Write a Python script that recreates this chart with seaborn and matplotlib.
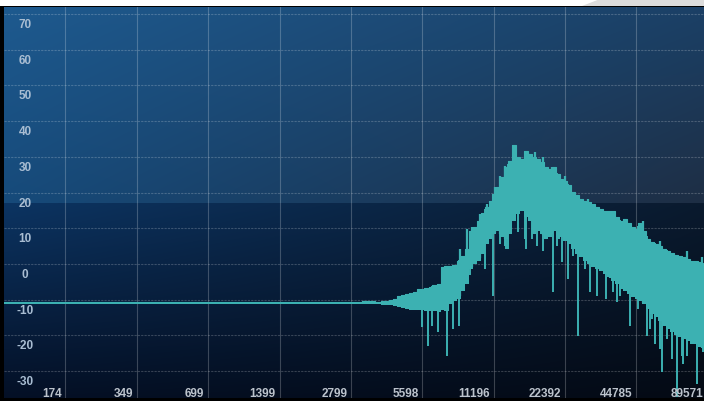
import numpy as np
import matplotlib
matplotlib.use("Agg")
import matplotlib.pyplot as plt
import matplotlib.transforms as mtransforms
from matplotlib.patches import Rectangle, Polygon
import seaborn as sns

# Spectrum (Hz / dB)
band_freq = [96, 2799, 3400, 3675, 3820, 3972, 4130, 4293, 4463, 4640, 4824, 5016, 5214, 5421,
             5598, 5820, 6051, 6290, 6541, 6799, 7069, 7350, 7641, 7944, 8259, 8586, 8927, 9281,
             9649, 10031, 10429, 10842,
             11196, 11640, 12102, 12580, 13082, 13598, 14138, 14700, 15282, 15888, 16518, 17172,
             17854, 18562, 19298, 20062, 20858, 21684,
             22392, 23280, 24204, 25160, 26164, 27196, 28276, 29400, 30564, 31776, 33036, 34344,
             35708, 37124, 38596, 40124, 41716, 43368,
             44785, 46560, 48408, 50320, 52328, 54392, 56552, 58800, 61128, 63552, 66072, 68688,
             71416, 74248, 77192, 80248, 83432, 86736]
band_hi = [-10.6, -10.6, -10.5, -10.6, -10.5, -10.4, -10.1, -9.8, -9.0, -8.7, -8.4, -8.2, -7.9, -7.0,
           -7.0, -6.7, -6.5, -5.9, -5.6, -0.9, -0.6, -0.6, -0.3, 0.8, 2.2, 4.2, 9.2, 10.3,
           12.0, 14.3, 15.9, 17.6,
           19.6, 21.5, 24.3, 27.1, 28.8, 33.3, 29.9, 29.4, 31.6, 30.8, 29.9, 29.4,
           28.5, 27.1, 26.6, 27.1, 25.2, 23.8,
           23.2, 22.1, 20.1, 19.3, 18.2, 17.6, 17.3, 16.8, 15.9, 15.4, 14.8, 14.8,
           14.8, 13.1, 12.0, 12.6, 11.5, 10.3,
           9.8, 11.5, 9.2, 7.0, 6.1, 5.6, 5.0, 4.2, 3.6, 3.1, 2.5, 2.2,
           1.9, 1.4, 0.8, 0.8, 0.5, 0.0]
band_lo = [-11.3, -11.3, -11.3, -11.3, -11.4, -11.5, -11.5, -11.8, -12.1, -12.3, -12.6, -12.8, -12.9, -13.0,
           -13.0, -13.2, -13.3, -13.2, -13.4, -13.0, -13.2, -11.2, -10.4, -9.8, -7.6, -5.6, -1.4, 0.0,
           0.8, 2.8, 5.6, 7.0,
           8.4, 9.2, 7.5, 7.0, 8.4, 12.0, 14.0, 14.8, 13.1, 12.0, 8.4, 9.2,
           8.4, 7.0, 7.5, 9.2, 7.0, 7.5,
           6.4, 5.6, 4.2, 2.8, 1.9, 0.8, 0.0, -0.9, -1.4, -2.0, -2.8, -3.7,
           -4.8, -5.6, -7.0, -7.6, -8.4, -9.3,
           -9.8, -10.4, -11.2, -12.6, -14.0, -14.9, -16.0, -17.4, -18.2, -19.1, -19.9, -20.5,
           -21.0, -21.6, -22.4, -22.4, -23.3, -23.8]

# narrow dips below the band
dip_freq = [5555, 5923, 6121, 6528, 7103, 7552, 8005, 8885, 10275, 11142, 11890, 12483, 12853,
            12607, 14163, 15171, 15320, 16234, 17086, 18062, 19849, 20690, 21721, 23033, 24183,
            25508, 27162, 28526, 30520, 33313, 35730, 37081, 38210, 42088, 45500, 49621, 51113,
            52130, 53650, 56340, 57432, 60280, 63280, 66461, 69766, 70450, 73246, 80725, 85584]
dip_db = [-17.7, -23.0, -17.4, -19.1, -25.8, -18.2, -17.4, -3.0, -1.4, -9.0, 5.5, 5.0, 4.2,
          4.2, 8.9, 7.0, 4.2, 7.0, 5.0, 3.6, -7.9, 5.0, 0.5, -4.2, 2.2,
          -20.2, -1.4, -7.9, -9.0, -9.8, -7.9, -10.7, -9.0, -17.4, -12.6, -20.2, -18.2,
          -15.4, -22.4, -23.8, -30.3, -21.0, -26.6, -37.3, -25.8, -28.0, -25.8, -33.6, -24.7]

# thin peaks poking above the band
peak_freq = [8056, 8627, 9057, 9791, 10479, 11329, 11890, 12483, 16716, 18059, 19716, 22392,
             25146, 27967, 31438, 34641, 38941, 47741, 56340, 73223, 84733]
peak_db = [4.2, 9.8, 10.3, 14.0, 16.8, 21.5, 24.6, 27.4, 31.3, 29.9, 27.1, 24.6,
           18.7, 18.2, 15.4, 14.5, 12.0, 12.0, 6.4, 3.6, 1.9]

db_ticks = [70, 60, 50, 40, 30, 20, 10, 0, -10, -20, -30]
freq_ticks = [174, 349, 699, 1399, 2799, 5598, 11196, 22392, 44785, 89571]

teal = "#3cb1b2"

sns.set_theme(style="dark")
plt.rcParams["font.family"] = ["Liberation Sans", "DejaVu Sans"]

fig = plt.figure(figsize=(7.04, 4.02), dpi=100, facecolor="black")
# white strip + grey swoosh above the panel
fig.patches.append(Rectangle((0, 395 / 402), 1, 7 / 402, transform=fig.transFigure,
                             facecolor="white", edgecolor="none", zorder=0))
fig.patches.append(Polygon([(582 / 704, 395 / 402), (600 / 704, 1), (1, 1), (1, 395 / 402)],
                           closed=True, transform=fig.transFigure,
                           facecolor="#dcdcdc", edgecolor="none", zorder=0))

ax = fig.add_axes([4 / 704, 3 / 402, 700 / 704, 391 / 402])

# background: glossy upper half, dark lower half, darker to the right
h, w = 391, 700
yy = np.linspace(0, 1, h)[:, None, None]
xx = np.linspace(0, 1, w)[None, :, None]
split = 196


def quad(t, tl, tr, bl, br):
    tl, tr, bl, br = [np.array(c) / 255 for c in (tl, tr, bl, br)]
    return (1 - t) * ((1 - xx) * tl + xx * tr) + t * ((1 - xx) * bl + xx * br)


bg = np.zeros((h, w, 3))
bg[:split] = quad(yy[:split] / yy[split], (30, 90, 143), (27, 64, 102), (22, 74, 122), (30, 46, 68))
bg[split:] = quad((yy[split:] - yy[split]) / (1 - yy[split]),
                  (12, 52, 98), (10, 26, 46), (4, 16, 38), (4, 10, 20))
ax.imshow(bg, extent=[0, 1, 0, 1], transform=ax.transAxes, aspect="auto", zorder=0)

ax.set_xscale("log", base=2)
ax.set_xlim(95.8, 86400)
ax.set_ylim(-37.56, 71.96)

for f in freq_ticks:
    ax.axvline(f, color="white", alpha=0.22, lw=0.8, zorder=1)
for d in db_ticks:
    ax.axhline(d, color="white", alpha=0.2, lw=0.8, ls=(0, (2, 1)), zorder=1)

ax.fill_between(band_freq, band_lo, band_hi, color=teal, lw=0, step="mid", zorder=3)
sns.lineplot(x=band_freq, y=band_hi, color=teal, lw=0.8, drawstyle="steps-mid", ax=ax, zorder=3)
ax.vlines(dip_freq, dip_db, np.interp(dip_freq, band_freq, band_hi),
          color=teal, lw=1.4, zorder=3)
ax.vlines(peak_freq, np.interp(peak_freq, band_freq, band_lo), peak_db,
          color=teal, lw=1.6, zorder=3)

ax.set_xticks([])
ax.set_yticks([])
ax.set_xlabel("")
ax.set_ylabel("")
ax.grid(False)
for s in ax.spines.values():
    s.set_visible(False)

ytrans = mtransforms.blended_transform_factory(ax.transAxes, ax.transData)
for d in db_ticks:
    ax.annotate(str(d), xy=(0.03, d), xycoords=ytrans, xytext=(0, -10), textcoords="offset pixels",
                ha="center", va="center", fontsize=8.5, fontweight="bold", color="#a9bdd2", zorder=4)

xtrans = mtransforms.blended_transform_factory(ax.transData, ax.transAxes)
for f in freq_ticks:
    ax.annotate(str(f), xy=(f, 0), xycoords=xtrans, xytext=(-4, 5), textcoords="offset pixels",
                ha="right", va="center", fontsize=8.5, fontweight="bold", color="#bcc3cc",
                zorder=4, annotation_clip=False)

plt.savefig("out.png", dpi=100, facecolor=fig.get_facecolor())
plt.close()
